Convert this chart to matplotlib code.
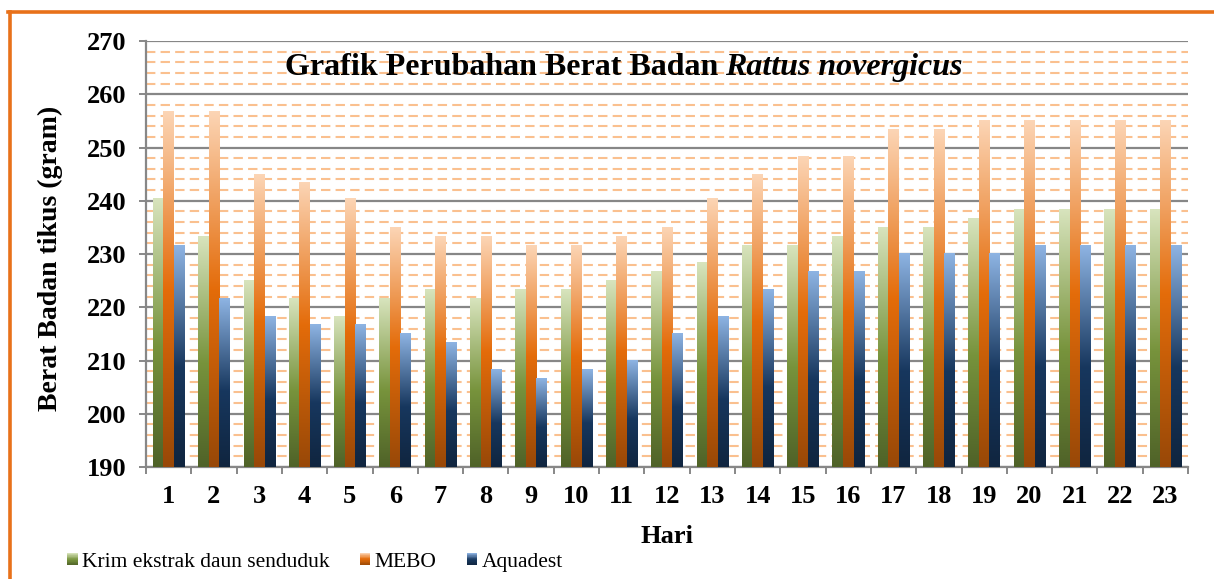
import numpy as np
import matplotlib
matplotlib.use("Agg")
import matplotlib.pyplot as plt
from matplotlib.colors import LinearSegmentedColormap
from matplotlib.patches import Rectangle, Patch
from matplotlib.legend_handler import HandlerBase
from matplotlib.lines import Line2D

plt.rcParams['font.family'] = ['Liberation Serif', 'DejaVu Serif']

# data: berat badan rata-rata per hari
hari = list(range(1, 24))
krim = [240.33, 233.33, 225.0, 221.67, 218.33, 221.67, 223.33, 221.67, 223.33, 223.33,
        225.0, 226.67, 228.33, 231.67, 231.67, 233.33, 235.0, 235.0, 236.67, 238.33,
        238.33, 238.33, 238.33]
mebo = [256.67, 256.67, 245.0, 243.33, 240.33, 235.0, 233.33, 233.33, 231.67, 231.67,
        233.33, 235.0, 240.33, 245.0, 248.33, 248.33, 253.33, 253.33, 255.0, 255.0,
        255.0, 255.0, 255.0]
aquadest = [231.67, 221.67, 218.33, 216.67, 216.67, 215.0, 213.33, 208.33, 206.67, 208.33,
            210.0, 215.0, 218.33, 223.33, 226.67, 226.67, 230.0, 230.0, 230.0, 231.67,
            231.67, 231.67, 231.67]
labels = ['Krim ekstrak daun senduduk', 'MEBO', 'Aquadest']

ymin, ymax = 190, 270

# gradient warna tiap seri (bawah gelap -> tengah -> atas terang)
cm_green = LinearSegmentedColormap.from_list('g', [(0, '#4f6228'), (0.45, '#77933c'), (1, '#d8e4bd')])
cm_orange = LinearSegmentedColormap.from_list('o', [(0, '#984807'), (0.5, '#e46c0a'), (1, '#fcd5b5')])
cm_blue = LinearSegmentedColormap.from_list('b', [(0, '#10253f'), (0.45, '#17375e'), (1, '#8eb4e3')])
cmaps = [cm_green, cm_orange, cm_blue]

fig = plt.figure(figsize=(12.14, 5.79), dpi=100)
ax = fig.add_axes([0.1203, 0.1934, 0.8583, 0.7358])

grad = np.linspace(0, 1, 256).reshape(-1, 1)
w = 0.232
x = np.array(hari, dtype=float)
for k, (vals, cm) in enumerate(zip([krim, mebo, aquadest], cmaps)):
    off = (k - 1) * w
    for xi, v in zip(x, vals):
        x0 = xi + off - w / 2
        ax.imshow(grad, extent=[x0, x0 + w, ymin, v], aspect='auto', cmap=cm,
                  origin='lower', interpolation='bilinear', zorder=3)

ax.set_xlim(0.5, 23.5)
ax.set_ylim(ymin, ymax)

# grid
ax.set_yticks(np.arange(ymin, ymax + 1, 10))
ax.set_yticks([v for v in range(ymin, ymax, 2) if v % 10 != 0], minor=True)
ax.grid(axis='y', which='major', color='#878787', lw=1.6, zorder=1)
ax.grid(axis='y', which='minor', color='#fac08f', lw=1.5, ls=(0, (4.5, 2.5)), zorder=1)
ax.set_axisbelow(True)

for s in ['top', 'right']:
    ax.spines[s].set_visible(False)
for s in ['left', 'bottom']:
    ax.spines[s].set_color('#878787')
    ax.spines[s].set_linewidth(1.6)

ax.set_xticks(hari)
ax.set_xticks(np.arange(0.5, 24, 1), minor=True)
ax.tick_params(axis='x', which='major', length=0, pad=13, labelsize=19)
ax.tick_params(axis='x', which='minor', length=5, width=1.4, color='#878787')
ax.tick_params(axis='y', which='major', length=5, width=1.4, color='#878787', pad=9, labelsize=19)
ax.tick_params(axis='y', which='minor', length=0)
for t in ax.get_xticklabels() + ax.get_yticklabels():
    t.set_fontweight('bold')

ax.set_ylabel('Berat Badan tikus (gram)', fontsize=20, fontweight='bold')
ax.yaxis.set_label_coords(-0.08, 0.49)
ax.set_xlabel('Hari', fontsize=19, fontweight='bold')
ax.xaxis.set_label_coords(0.5, -0.135)

# judul di dalam area plot
t1 = ax.text(3.57, 263.6, 'Grafik Perubahan Berat Badan', fontsize=23, fontweight='bold',
             va='baseline', ha='left', zorder=5)
ax.annotate('Rattus novergicus', xy=(1, 0), xycoords=t1, xytext=(5, 0),
            textcoords='offset points', fontsize=23, fontweight='bold', style='italic',
            va='bottom', ha='left', zorder=5)


# legenda dengan kotak gradient
class GradHandler(HandlerBase):
    def __init__(self, cmap):
        super().__init__()
        self.cmap = cmap

    def create_artists(self, legend, orig_handle, xdescent, ydescent, width, height, fontsize, trans):
        n = 20
        arts = []
        for i in range(n):
            r = Rectangle((-xdescent, -ydescent + height * i / n), width, height / n * 1.05,
                          facecolor=self.cmap((i + 0.5) / n), edgecolor='none', transform=trans)
            arts.append(r)
        return arts


handles = [Patch(label=l) for l in labels]
hmap = {h: GradHandler(cm) for h, cm in zip(handles, cmaps)}
fig.legend(handles=handles, handler_map=hmap, loc='center left', bbox_to_anchor=(0.055, 0.029),
           ncol=3, frameon=False, fontsize=15.5, handlelength=0.5, handleheight=0.5,
           handletextpad=0.2, columnspacing=1.4, borderaxespad=0, borderpad=0)

# bingkai oranye
fig.add_artist(Line2D([8 / 1214, 1.0], [1 - 11.5 / 579] * 2, color='#e8711a', lw=2.6))
fig.add_artist(Line2D([10 / 1214] * 2, [0, 1 - 11.5 / 579], color='#e8711a', lw=2.6))

fig.savefig('out.png', dpi=100)
